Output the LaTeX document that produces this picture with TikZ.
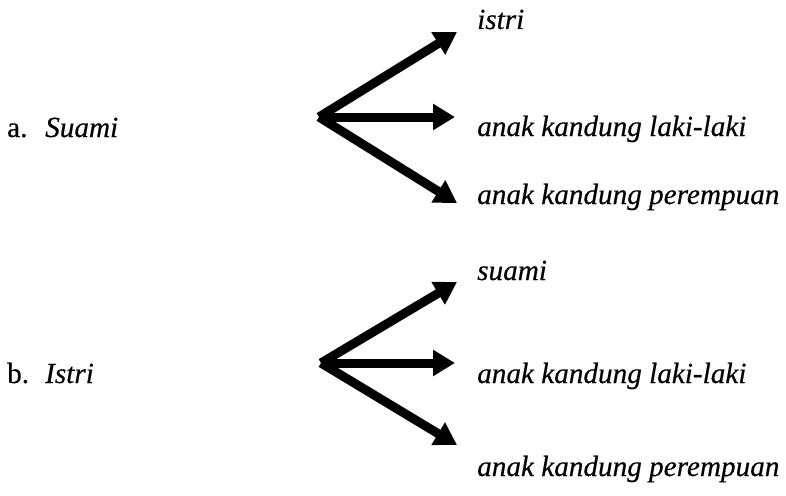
\documentclass[tikz,border=0pt]{standalone}
\usepackage{fontspec}
\setmainfont{Liberation Serif}[FakeBold=0.4]
\usetikzlibrary{arrows.meta}
\begin{document}
\begin{tikzpicture}[x=1pt,y=-1pt,
  lbl/.style={anchor=base west,inner sep=0pt,font=\fontsize{29.2}{31}\selectfont\itshape},
  num/.style={anchor=base west,inner sep=0pt,font=\fontsize{29.2}{31}\selectfont},
  arr/.style={line width=9pt,-{Triangle[length=22pt,width=25pt]}}]
\useasboundingbox (0,0) rectangle (786,495);
% --- a ---
\node[num] (na) at (7,137) {a.};
\node[lbl] (sa) at (45,137) {Suami};
\coordinate (oa) at (319,117);
\coordinate (ta1) at (457,32);
\coordinate (ta2) at (455,117);
\coordinate (ta3) at (457,203);
\node[lbl] (a1) at (477,29) {istri};
\node[lbl] (a2) at (477,136) {anak kandung laki-laki};
\node[lbl] (a3) at (477,204) {anak kandung perempuan};
\draw[arr] (oa) -- (ta1);
\draw[arr] (oa) -- (ta2);
\draw[arr] (oa) -- (ta3);
% --- b ---
\node[num] (nb) at (7,383) {b.};
\node[lbl] (sb) at (45,383) {Istri};
\coordinate (ob) at (321,363);
\coordinate (tb1) at (457,282);
\coordinate (tb2) at (455,363);
\coordinate (tb3) at (457,445);
\node[lbl] (b1) at (477,280) {suami};
\node[lbl] (b2) at (477,383) {anak kandung laki-laki};
\node[lbl] (b3) at (477,476) {anak kandung perempuan};
\draw[arr] (ob) -- (tb1);
\draw[arr] (ob) -- (tb2);
\draw[arr] (ob) -- (tb3);
\end{tikzpicture}
\end{document}
